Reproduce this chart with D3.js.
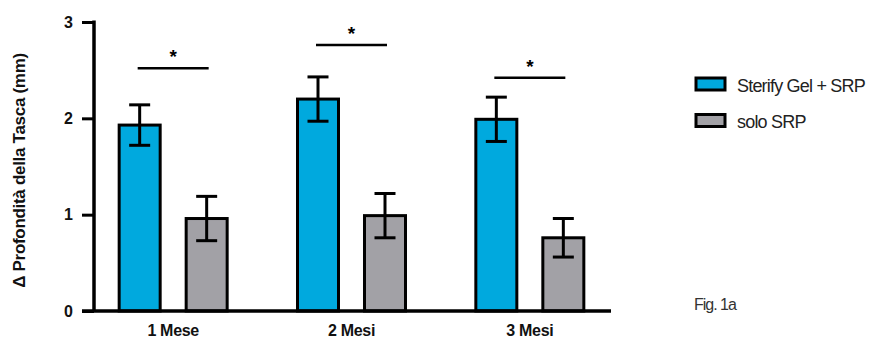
<!DOCTYPE html>
<html>
<head>
<meta charset="utf-8">
<script src="https://cdn.jsdelivr.net/npm/d3@7"></script>
<style>
  html, body { margin: 0; padding: 0; background: #fff; }
  svg { display: block; font-family: "Liberation Sans", Arial, sans-serif; }
</style>
</head>
<body>
<svg id="chart" width="872" height="340"></svg>
<script>
// Pocket depth reduction by follow-up time
const categories = ["1 Mese", "2 Mesi", "3 Mesi"];
const seriesNames = ["Sterify Gel + SRP", "solo SRP"];
const gelValues = [1.93, 2.20, 1.99];
const gelErrors = [0.21, 0.23, 0.23];
const srpValues = [0.96, 0.99, 0.76];
const srpErrors = [0.23, 0.23, 0.20];
const sigHeights = [2.52, 2.76, 2.42];
const sigLabels = ["*", "*", "*"];
const yTicks = [0, 1, 2, 3];
const yTitle = "Δ Profondità della Tasca (mm)";
const figLabel = "Fig. 1a";

const colors = ["#00a9de", "#a2a1a6"];
const series = [
  { name: seriesNames[0], values: gelValues, errors: gelErrors, color: colors[0] },
  { name: seriesNames[1], values: srpValues, errors: srpErrors, color: colors[1] }
];

const svg = d3.select("#chart");

const y = d3.scaleLinear().domain([0, 3]).range([311, 22]);
const x = d3.scaleBand().domain(categories).range([84, 619]);
const bw = x.bandwidth();
const xs = d3.scaleBand().domain(seriesNames)
  .range([bw / 2 - 54, bw / 2 + 54])
  .paddingInner(0.388).paddingOuter(0);

const barW = xs.bandwidth();
const capW = 21;

// bars
series.forEach(s => {
  svg.append("g").selectAll("rect")
    .data(categories)
    .join("rect")
    .attr("x", (c) => x(c) + xs(s.name))
    .attr("y", (c, i) => y(s.values[i]))
    .attr("width", barW)
    .attr("height", (c, i) => y(0) - y(s.values[i]))
    .attr("fill", s.color)
    .attr("stroke", "#000")
    .attr("stroke-width", 3);
});

// error bars
series.forEach(s => {
  const g = svg.append("g").attr("stroke", "#000").attr("stroke-width", 3);
  categories.forEach((c, i) => {
    const cx = x(c) + xs(s.name) + barW / 2;
    const top = y(s.values[i] + s.errors[i]);
    const bot = y(s.values[i] - s.errors[i]);
    g.append("line").attr("x1", cx).attr("x2", cx).attr("y1", top).attr("y2", bot);
    g.append("line").attr("x1", cx - capW / 2).attr("x2", cx + capW / 2).attr("y1", top).attr("y2", top);
    g.append("line").attr("x1", cx - capW / 2).attr("x2", cx + capW / 2).attr("y1", bot).attr("y2", bot);
  });
});

// significance brackets
const sig = svg.append("g");
categories.forEach((c, i) => {
  const x1 = x(c) + xs(seriesNames[0]) + barW / 2 - 2;
  const x2 = x(c) + xs(seriesNames[1]) + barW / 2 + 2;
  sig.append("line")
    .attr("x1", x1).attr("x2", x2)
    .attr("y1", y(sigHeights[i])).attr("y2", y(sigHeights[i]))
    .attr("stroke", "#000").attr("stroke-width", 2.5);
  sig.append("text")
    .attr("x", (x1 + x2) / 2)
    .attr("y", y(sigHeights[i]) - 5)
    .attr("text-anchor", "middle")
    .attr("font-size", 19)
    .attr("font-weight", "bold")
    .text(sigLabels[i]);
});

// y axis
const yAxis = svg.append("g")
  .attr("transform", "translate(94,0)")
  .call(d3.axisLeft(y).tickValues(yTicks).tickFormat(d3.format("d")).tickSize(12).tickSizeOuter(0));
yAxis.select(".domain").attr("stroke", "#000").attr("stroke-width", 3.5).attr("d", `M0,${y(3) - 1.5}V${y(0)}`);
yAxis.selectAll(".tick line").attr("stroke", "#000").attr("stroke-width", 3);
yAxis.selectAll(".tick text")
  .attr("x", -21)
  .attr("font-size", 16)
  .attr("font-weight", "bold")
  .attr("font-family", "Liberation Sans, Arial, sans-serif")
  .attr("fill", "#111");

// x axis baseline and category labels
svg.append("line")
  .attr("x1", 82).attr("x2", 611)
  .attr("y1", y(0)).attr("y2", y(0))
  .attr("stroke", "#000").attr("stroke-width", 3.5);

svg.append("g").selectAll("text")
  .data(categories)
  .join("text")
  .attr("x", c => x(c) + bw / 2)
  .attr("y", 336)
  .attr("text-anchor", "middle")
  .attr("font-size", 16)
  .attr("font-weight", "bold")
  .attr("letter-spacing", -0.3)
  .attr("fill", "#111")
  .text(c => c);

// y axis title
svg.append("text")
  .attr("transform", `translate(25,${(y(0) + y(3)) / 2 + 4}) rotate(-90)`)
  .attr("text-anchor", "middle")
  .attr("font-size", 17)
  .attr("font-weight", "bold")
  .attr("letter-spacing", -0.3)
  .attr("fill", "#111")
  .text(yTitle);

// legend
const legend = svg.append("g").attr("transform", "translate(696,78)");
series.forEach((s, i) => {
  const row = legend.append("g").attr("transform", `translate(0,${i * 36.5})`);
  row.append("rect")
    .attr("width", 29).attr("height", 12)
    .attr("fill", s.color)
    .attr("stroke", "#000").attr("stroke-width", 3);
  row.append("text")
    .attr("x", 41).attr("y", 13.5)
    .attr("font-size", 18)
    .attr("letter-spacing", -0.8)
    .attr("fill", "#222")
    .text(s.name);
});

// figure label
svg.append("text")
  .attr("x", 694).attr("y", 310)
  .attr("font-size", 16)
  .attr("letter-spacing", -1)
  .attr("fill", "#333")
  .text(figLabel);
</script>
</body>
</html>
